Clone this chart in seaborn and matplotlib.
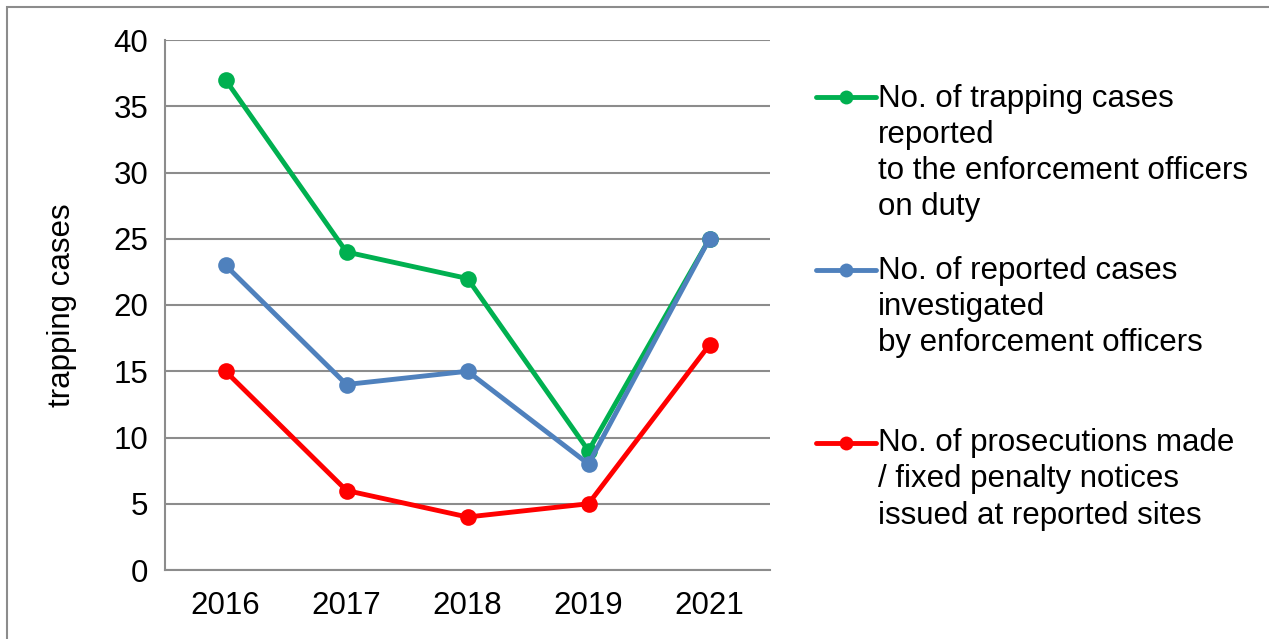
import numpy as np
import pandas as pd
import matplotlib
matplotlib.use("Agg")
import matplotlib.pyplot as plt
from matplotlib.lines import Line2D
import seaborn as sns

years = ["2016", "2017", "2018", "2019", "2021"]
reported = [37, 24, 22, 9, 25]
investigated = [23, 14, 15, 8, 25]
prosecutions = [15, 6, 4, 5, 17]

labels = [
    "No. of trapping cases\nreported\nto the enforcement officers\non duty",
    "No. of reported cases\ninvestigated\nby enforcement officers\n",
    "No. of prosecutions made\n/ fixed penalty notices\nissued at reported sites",
]
colors = ["#00B050", "#4F81BD", "#FF0000"]

df = pd.DataFrame({
    "year": years * 3,
    "cases": reported + investigated + prosecutions,
    "series": [labels[0]] * 5 + [labels[1]] * 5 + [labels[2]] * 5,
})

sns.set_style("white")
plt.rcParams["font.family"] = ["Liberation Sans", "DejaVu Sans"]
plt.rcParams["text.color"] = "black"
plt.rcParams["axes.labelcolor"] = "black"
plt.rcParams["xtick.labelcolor"] = "black"
plt.rcParams["ytick.labelcolor"] = "black"

fs = 22.5
fig = plt.figure(figsize=(12.69, 6.39), dpi=100)
ax = fig.add_axes([165 / 1269, 1 - 570 / 639, 605 / 1269, 530 / 639])

sns.lineplot(data=df, x="year", y="cases", hue="series", hue_order=labels,
             palette=dict(zip(labels, colors)), marker="o", markersize=12,
             markeredgewidth=0, linewidth=3.5, sort=False, ax=ax, legend=False)

grid_c = "#8c8c8c"
ax.set_ylim(0, 40)
ax.set_xlim(-0.5, 4.5)
ax.set_yticks(range(0, 41, 5))
ax.set_xticks(np.arange(-0.5, 5, 1))
ax.set_xticklabels([])
ax.set_xticks(range(5), minor=True)
ax.set_xticklabels(years, minor=True)
ax.yaxis.grid(True, color=grid_c, linewidth=1.5)
ax.set_axisbelow(True)
for s in ["top", "right"]:
    ax.spines[s].set_visible(False)
for s in ["left", "bottom"]:
    ax.spines[s].set_color(grid_c)
    ax.spines[s].set_linewidth(1.5)
ax.tick_params(axis="both", which="major", direction="out", length=6,
               width=1.5, color=grid_c, labelsize=fs, pad=6)
ax.tick_params(axis="x", which="minor", length=0, labelsize=fs, pad=15)
ax.set_xlabel("")
ax.set_ylabel("trapping cases", fontsize=fs, labelpad=26)

handles = [Line2D([], [], color=c, marker="o", markersize=10, markeredgewidth=0,
                  linewidth=3.5) for c in colors]
leg = fig.legend(handles, labels, loc="upper left", bbox_to_anchor=(803 / 1269, 1 - 71 / 639),
                 frameon=False, fontsize=fs, handlelength=1.95, handletextpad=0.05,
                 labelspacing=1.08, borderaxespad=0)
spacing = 1.27
for t in leg.get_texts():
    t.set_linespacing(spacing)
# align each legend marker with the first line of its label
line_pt = fs * spacing * 0.94
for h, lab in zip(leg.legend_handles, labels):
    n = lab.count("\n") + 1
    h.set_ydata(np.asarray(h.get_ydata()) + (n - 1) / 2 * line_pt)

# outer frame (top and left visible)
fig.patches.append(plt.Rectangle((7 / 1269, -0.1), 1.2, 1 - 7 / 639 + 0.1,
                                 transform=fig.transFigure, fill=False,
                                 edgecolor="#8c8c8c", linewidth=1.5))

fig.savefig("out.png", dpi=100)
